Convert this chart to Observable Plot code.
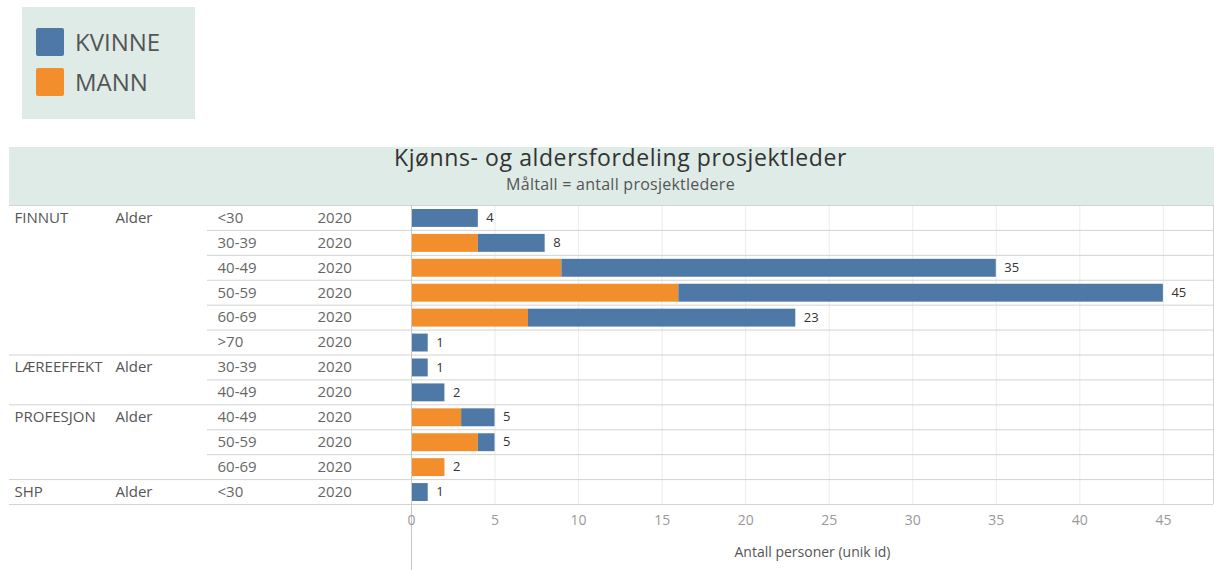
<!DOCTYPE html>
<html><head><meta charset="utf-8">
<script src="https://cdn.jsdelivr.net/npm/d3@7"></script>
<script src="https://cdn.jsdelivr.net/npm/@observablehq/plot@0.6"></script>
<style>
body{margin:0;background:#fff;font-family:"Open Sans",sans-serif;}
#page{position:relative;width:1214px;height:570px;overflow:hidden;background:#fff;}
#legend{position:absolute;left:22px;top:7px;width:173px;height:112px;background:#deebe7;}
.li{position:absolute;left:14px;display:flex;align-items:center;height:30px;}
.sw{width:28px;height:28px;border-radius:2px;margin-right:11px;}
.lt{font-size:24px;color:#555;line-height:30px;}
#band{position:absolute;left:9px;top:147px;width:1205px;height:58px;background:#deebe7;text-align:center;}
#title{position:absolute;left:18px;right:0;top:-3px;font-size:23px;letter-spacing:0.6px;color:#333;line-height:26px;}
#subtitle{position:absolute;left:18px;right:0;top:27px;font-size:16px;letter-spacing:0.25px;color:#555;line-height:20px;}
#chart{position:absolute;left:0;top:204px;}
</style></head>
<body><div id="page">
<div id="legend"></div>
<div id="band"><div id="title"></div><div id="subtitle"></div></div>
<div id="chart"></div>
</div>
<script>
// ---- data ----
const chartTitle = "Kjønns- og aldersfordeling prosjektleder";
const chartSubtitle = "Måltall = antall prosjektledere";
const axisTitle = "Antall personer (unik id)";
const programs = ["FINNUT","FINNUT","FINNUT","FINNUT","FINNUT","FINNUT","LÆREEFFEKT","LÆREEFFEKT","PROFESJON","PROFESJON","PROFESJON","SHP"];
const measureLabel = "Alder";
const ageGroups = ["<30","30-39","40-49","50-59","60-69",">70","30-39","40-49","40-49","50-59","60-69","<30"];
const years = ["2020","2020","2020","2020","2020","2020","2020","2020","2020","2020","2020","2020"];
const mann   = [0, 4,  9, 16,  7, 0, 0, 0, 3, 4, 2, 0];
const kvinne = [4, 4, 26, 29, 16, 1, 1, 2, 2, 1, 0, 1];
const genders = ["KVINNE","MANN"];
const genderColors = ["#4e79a7","#f28e2b"];
const xTicks = [0,5,10,15,20,25,30,35,40,45];
const xMax = 48;

// ---- html parts ----
document.getElementById("title").textContent = chartTitle;
document.getElementById("subtitle").textContent = chartSubtitle;
const leg = document.getElementById("legend");
genders.forEach((g,k)=>{
  const it = document.createElement("div");
  it.className = "li"; it.style.top = (20 + k*40) + "px";
  it.innerHTML = `<div class="sw" style="background:${genderColors[k]}"></div><div class="lt">${g}</div>`;
  leg.appendChild(it);
});

// ---- derived tables ----
const n = programs.length;
const rows = programs.map((p,i)=>({i, program:p, age:ageGroups[i], year:years[i],
  mann:mann[i], kvinne:kvinne[i], total:mann[i]+kvinne[i], first: i===0 || programs[i-1]!==p}));
const segs = [];
rows.forEach(r=>{
  if (r.mann>0) segs.push({i:r.i, g:"MANN", x1:0, x2:r.mann});
  if (r.kvinne>0) segs.push({i:r.i, g:"KVINNE", x1:r.mann, x2:r.mann+r.kvinne});
});
const bounds = d3.range(n+1).map(b=>({b, full: b===0 || b===n || programs[b]!==programs[b-1]}));

const ML = 411, W = 1214, H = 366, MB = 66;
const lineColor = "#d3d3d3";
const chart = Plot.plot({
  width: W, height: H, marginLeft: ML, marginRight: 1, marginTop: 1, marginBottom: MB,
  style: {fontFamily: "Open Sans", fontSize: "15px", background: "transparent"},
  x: {domain: [0, xMax]},
  y: {domain: [0, n], reverse: true, axis: null},
  color: {domain: genders, range: genderColors},
  marks: [
    Plot.ruleX(xTicks.filter(t=>t>0), {stroke: "#ececec"}),
    Plot.rect(segs, {x1: "x1", x2: "x2", y1: d=>d.i, y2: d=>d.i+1, fill: "g", insetTop: 4, insetBottom: 3}),
    Plot.ruleY(bounds.filter(d=>d.full), {y: "b", stroke: lineColor, insetLeft: -(ML-9)}),
    Plot.ruleY(bounds.filter(d=>!d.full), {y: "b", stroke: lineColor, insetLeft: -(ML-207)}),
    Plot.ruleX([0], {stroke: "#c8c8c8", insetBottom: -MB}),
    Plot.ruleX([xMax], {stroke: lineColor}),
    Plot.text(rows, {x: "total", y: d=>d.i+0.5, text: d=>String(d.total), dx: 8, textAnchor: "start", fill: "#333", fontSize: 13}),
    Plot.text(rows.filter(d=>d.first), {frameAnchor: "left", y: d=>d.i+0.5, text: "program", dx: 14-ML, textAnchor: "start", fill: "#555"}),
    Plot.text(rows.filter(d=>d.first), {frameAnchor: "left", y: d=>d.i+0.5, text: ()=>measureLabel, dx: 115-ML, textAnchor: "start", fill: "#555"}),
    Plot.text(rows, {frameAnchor: "left", y: d=>d.i+0.5, text: "age", dx: 217-ML, textAnchor: "start", fill: "#666"}),
    Plot.text(rows, {frameAnchor: "left", y: d=>d.i+0.5, text: "year", dx: 317-ML, textAnchor: "start", fill: "#666"}),
    Plot.axisX(xTicks, {anchor: "bottom", tickSize: 0, tickPadding: 11, fill: "#999", fontSize: 14, label: null, tickFormat: d=>String(d)}),
    Plot.text([axisTitle], {frameAnchor: "bottom", dy: 48, lineAnchor: "middle", fill: "#555", fontSize: 14})
  ]
});
document.getElementById("chart").appendChild(chart);
</script>
</body></html>
